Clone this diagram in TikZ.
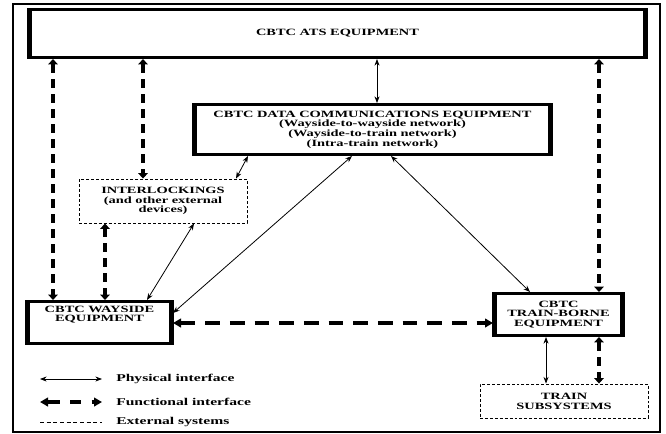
\documentclass[tikz,border=0pt]{standalone}
\usepackage{fontspec}
\setmainfont{Liberation Serif}
\newfontfamily\cbfont[FakeStretch=1.5]{Liberation Serif}
\usetikzlibrary{arrows.meta,calc}
\newcommand\cbboxfont{\cbfont\bfseries\fontsize{7.2pt}{7.3pt}\selectfont}
\newcommand\cblegfont{\cbfont\bfseries\fontsize{7.8pt}{8pt}\selectfont}
\begin{document}
\begin{tikzpicture}[x=0.75pt,y=-0.75pt,
  thickbox/.style={draw, line width=2.25pt, inner sep=0pt, align=center, font=\cbboxfont},
  sidebar/.style={line width=3.9pt},
  extbox/.style={draw, line width=0.7pt, dash pattern=on 2.2pt off 1.5pt, inner sep=0pt, align=center, font=\cbboxfont},
  boxtext/.style={inner sep=0pt, align=center, font=\cbboxfont},
  legtext/.style={inner sep=0pt, anchor=west, font=\cblegfont},
  phys/.style={line width=0.6pt, {Stealth[length=5pt,width=3.8pt]}-{Stealth[length=5pt,width=3.8pt]}},
  funcv/.style={line width=2.6pt, dash pattern=on 6.75pt off 4.5pt, {Triangle[length=4pt,width=7pt]}-{Triangle[length=4pt,width=7pt]}},
  funch/.style={line width=2.6pt, dash pattern=on 11pt off 7.5pt, {Triangle[length=6pt,width=6.5pt]}-{Triangle[length=6pt,width=6.5pt]}},
  funcleg/.style={funch, dash pattern=on 9pt off 8pt on 8pt off 8pt on 20pt},
  extline/.style={line width=0.6pt, dash pattern=on 3pt off 2pt},
  frame/.style={draw, line width=1.1pt}
]
\useasboundingbox (0,0) rectangle (666,433);
\fill[white] (0,0) rectangle (666,433);
\draw[frame] (13,4) rectangle (660,432);

% boxes
\node[thickbox, minimum width=462pt, minimum height=36pt] (ats) at (337.5,33.5) {CBTC ATS EQUIPMENT};
\node[thickbox, minimum width=267pt, minimum height=37.5pt] (dce) at (372.5,129.5)
  {CBTC DATA COMMUNICATIONS EQUIPMENT\\(Wayside-to-wayside network)\\(Wayside-to-train network)\\(Intra-train network)};
\node[extbox, minimum width=126pt, minimum height=33pt] (inter) at (163,201)
  {INTERLOCKINGS\\(and other external\\devices)};
\node[thickbox, minimum width=108pt, minimum height=31.5pt] (way) at (99.5,322.5) {};
\node[boxtext] (waytext) at (99.5,314.5) {CBTC WAYSIDE\\EQUIPMENT};
\node[thickbox, minimum width=96pt, minimum height=31.5pt] (train) at (558.5,314.5)
  {CBTC\\TRAIN-BORNE\\EQUIPMENT};
\node[extbox, minimum width=126pt, minimum height=25.5pt] (sub) at (564,401)
  {TRAIN\\SUBSYSTEMS};

\foreach \n in {ats,dce,way,train} {
  \draw[sidebar] ([xshift=1.125pt]\n.north west) -- ([xshift=1.125pt]\n.south west);
  \draw[sidebar] ([xshift=-1.125pt]\n.north east) -- ([xshift=-1.125pt]\n.south east);
}

% helper positions
\coordinate (xa) at (53,0);
\coordinate (xb) at (143,0);
\coordinate (xc) at (105,0);
\coordinate (xd) at (599,0);
\coordinate (xe) at (546,0);
\coordinate (xf) at (377,0);
\coordinate (yh) at (0,323);
\coordinate (p1) at (248,0);
\coordinate (p2) at (236,0);
\coordinate (p3) at (352,0);
\coordinate (p4) at (0,313);
\coordinate (p5) at (391,0);
\coordinate (p6) at (530,0);
\coordinate (p7) at (194,0);
\coordinate (p8) at (147,0);

% functional interfaces
\draw[funcv] (ats.south -| xa) -- (way.north -| xa);
\draw[funcv] (ats.south -| xb) -- (inter.north -| xb);
\draw[funcv] (inter.south -| xc) -- (way.north -| xc);
\draw[funcv] (ats.south -| xd) -- (train.north -| xd);
\draw[funcv] (train.south -| xd) -- (sub.north -| xd);
\draw[funch] (way.east |- yh) -- (train.west |- yh);

% physical interfaces
\draw[phys] (ats.south -| xf) -- (dce.north -| xf);
\draw[phys] (train.south -| xe) -- (sub.north -| xe);
\draw[phys] (dce.south -| p1) -- (inter.north -| p2);
\draw[phys] (dce.south -| p3) -- (way.east |- p4);
\draw[phys] (dce.south -| p5) -- (train.north -| p6);
\draw[phys] (inter.south -| p7) -- (way.north -| p8);

% legend
\coordinate (l1a) at (40,379);
\coordinate (l1b) at (102,379);
\coordinate (l2a) at (40,402);
\coordinate (l2b) at (102,402);
\coordinate (l3a) at (40,422);
\coordinate (l3b) at (102,422);
\draw[phys] (l1a) -- (l1b);
\draw[funcleg] (l2a) -- (l2b);
\draw[extline] (l3a) -- (l3b);
\node[legtext] (lt1) at (116,379) {Physical interface};
\node[legtext] (lt2) at (116,402) {Functional interface};
\node[legtext] (lt3) at (116,422) {External systems};
\end{tikzpicture}
\end{document}
